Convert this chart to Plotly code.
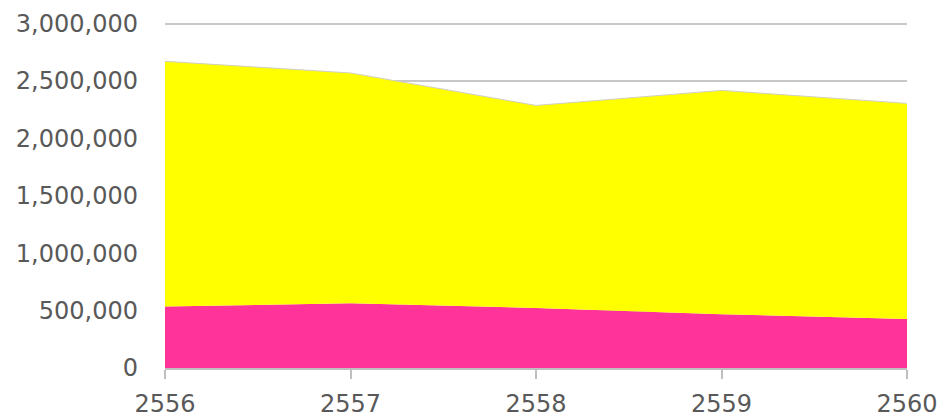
import plotly.graph_objects as go

# Fiscal years (Buddhist Era)
years = [2556, 2557, 2558, 2559, 2560]
# Lower band (pink) and upper band (yellow) values; stacked to form the area chart
pink_values = [535000, 564000, 523000, 468000, 427000]
yellow_values = [2136000, 2006000, 1764000, 1950000, 1878000]

y_ticks = [0, 500000, 1000000, 1500000, 2000000, 2500000, 3000000]
y_tick_text = ["0", "500,000", "1,000,000", "1,500,000", "2,000,000", "2,500,000", "3,000,000"]
x_tick_text = ["2556", "2557", "2558", "2559", "2560"]

fig = go.Figure()
fig.add_trace(go.Scatter(
    x=years, y=pink_values, mode="lines", stackgroup="one",
    line=dict(width=0, color="#FF3399"), fillcolor="#FF3399",
    hoverinfo="x+y", showlegend=False,
))
fig.add_trace(go.Scatter(
    x=years, y=yellow_values, mode="lines", stackgroup="one",
    line=dict(width=1, color="#d0d0c0"), fillcolor="#FFFF00",
    hoverinfo="x+y", showlegend=False,
))

font_family = "DejaVu Sans, sans-serif"
fig.update_layout(
    width=944, height=418,
    margin=dict(l=165, r=37, t=19, b=50),
    paper_bgcolor="white", plot_bgcolor="white",
    font=dict(family=font_family, size=24, color="#595959"),
    xaxis=dict(
        range=[2556, 2560], tickvals=years, ticktext=x_tick_text,
        showgrid=False, zeroline=False, automargin=False,
        showline=True, linecolor="#bfbfbf", linewidth=1.5,
        ticks="outside", ticklen=9, tickcolor="#bfbfbf", tickwidth=1.5,
        ticklabelstandoff=4,
        tickfont=dict(size=24, color="#595959"),
    ),
    yaxis=dict(
        range=[0, 3040000], tickvals=y_ticks, ticktext=y_tick_text,
        showgrid=True, gridcolor="#c8c8c8", gridwidth=1.5,
        zeroline=False, showline=False, automargin=False,
        ticks="", ticklabelstandoff=26,
        tickfont=dict(size=24, color="#595959"),
    ),
)

fig.write_html("out.html")
